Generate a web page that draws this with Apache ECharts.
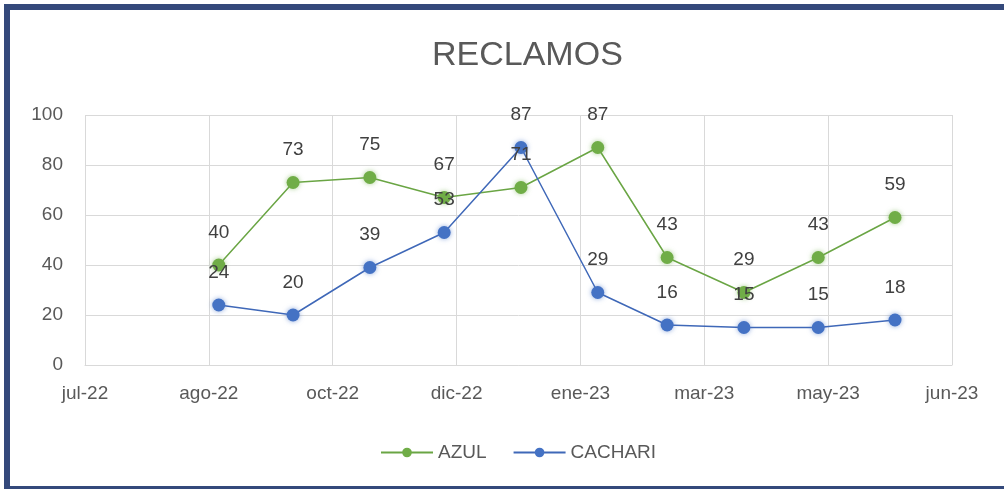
<!DOCTYPE html>
<html>
<head>
<meta charset="utf-8">
<script src="https://cdn.jsdelivr.net/npm/echarts@6/dist/echarts.min.js"></script>
<style>
  html, body { margin: 0; padding: 0; background: #fff; overflow: hidden; }
  #frame { position: absolute; left: 4px; top: 4px; width: 1012px; height: 488px;
           box-sizing: border-box; border: 6px solid #34497b; }
  #main { position: absolute; left: 0; top: 0; width: 1004px; height: 489px; }
</style>
</head>
<body>
<div id="frame"></div>
<div id="main"></div>
<script>
// fechas de los datos (fin de mes) y valores
var fechas = ['2022-08-31', '2022-09-30', '2022-10-31', '2022-11-30', '2022-12-31',
              '2023-01-31', '2023-02-28', '2023-03-31', '2023-04-30', '2023-05-31'];
var azul = [40, 73, 75, 67, 71, 87, 43, 29, 43, 59];
var cachari = [24, 20, 39, 53, 87, 29, 16, 15, 15, 18];
// eje de fechas: empieza el 8/7/2022, una marca cada 50 dias
var inicioEje = '2022-07-08';
var diasMarca = 50;
var etiquetasX = ['jul-22', 'ago-22', 'oct-22', 'dic-22', 'ene-23', 'mar-23', 'may-23', 'jun-23'];

var DIA = 24 * 3600 * 1000;
var t0 = Date.parse(inicioEje);
function puntos(valores) {
    var res = [];
    for (var i = 0; i < valores.length; i++) {
        res.push([Math.round((Date.parse(fechas[i]) - t0) / DIA), valores[i]]);
    }
    return res;
}

var fuente = "'Liberation Sans', Arial, sans-serif";
var etiqueta = {
    show: true, position: 'top', distance: 16,
    color: '#404040', fontSize: 19, fontFamily: fuente, lineHeight: 20
};

var myChart = echarts.init(document.getElementById('main'));
var option = {
    animation: false,
    title: {
        text: 'RECLAMOS', left: 427, top: 34,
        textStyle: { color: '#595959', fontSize: 34, fontWeight: 'normal', fontFamily: fuente }
    },
    legend: {
        bottom: 22, left: 375, itemWidth: 52, itemHeight: 12, itemGap: 26,
        textStyle: { color: '#595959', fontSize: 19, fontFamily: fuente },
        data: ['AZUL', 'CACHARI']
    },
    grid: { left: 85, right: 52, top: 115, bottom: 124 },
    xAxis: {
        type: 'value', min: 0, max: diasMarca * (etiquetasX.length - 1), interval: diasMarca,
        axisLine: { show: true, lineStyle: { color: '#d9d9d9', width: 1 } },
        axisTick: { show: false },
        splitLine: { show: true, lineStyle: { color: '#d9d9d9', width: 1 } },
        axisLabel: {
            color: '#595959', fontSize: 19, fontFamily: fuente, margin: 19,
            formatter: function (v) { return etiquetasX[Math.round(v / diasMarca)]; }
        }
    },
    yAxis: {
        type: 'value', min: 0, max: 100, interval: 20,
        axisLine: { show: false }, axisTick: { show: false },
        splitLine: { lineStyle: { color: '#d9d9d9', width: 1 } },
        axisLabel: { color: '#595959', fontSize: 19, fontFamily: fuente, margin: 22 }
    },
    series: [
        {
            name: 'AZUL', type: 'line', data: puntos(azul),
            symbol: 'circle', symbolSize: 13,
            lineStyle: { color: '#6aa544', width: 1.5 },
            itemStyle: { color: '#70ad47', shadowBlur: 5, shadowColor: 'rgba(112,173,71,0.6)' },
            label: etiqueta
        },
        {
            name: 'CACHARI', type: 'line', data: puntos(cachari),
            symbol: 'circle', symbolSize: 13,
            lineStyle: { color: '#3f68b8', width: 1.5 },
            itemStyle: { color: '#4472c4', shadowBlur: 5, shadowColor: 'rgba(68,114,196,0.6)' },
            label: etiqueta
        }
    ]
};
myChart.setOption(option);
</script>
</body>
</html>
